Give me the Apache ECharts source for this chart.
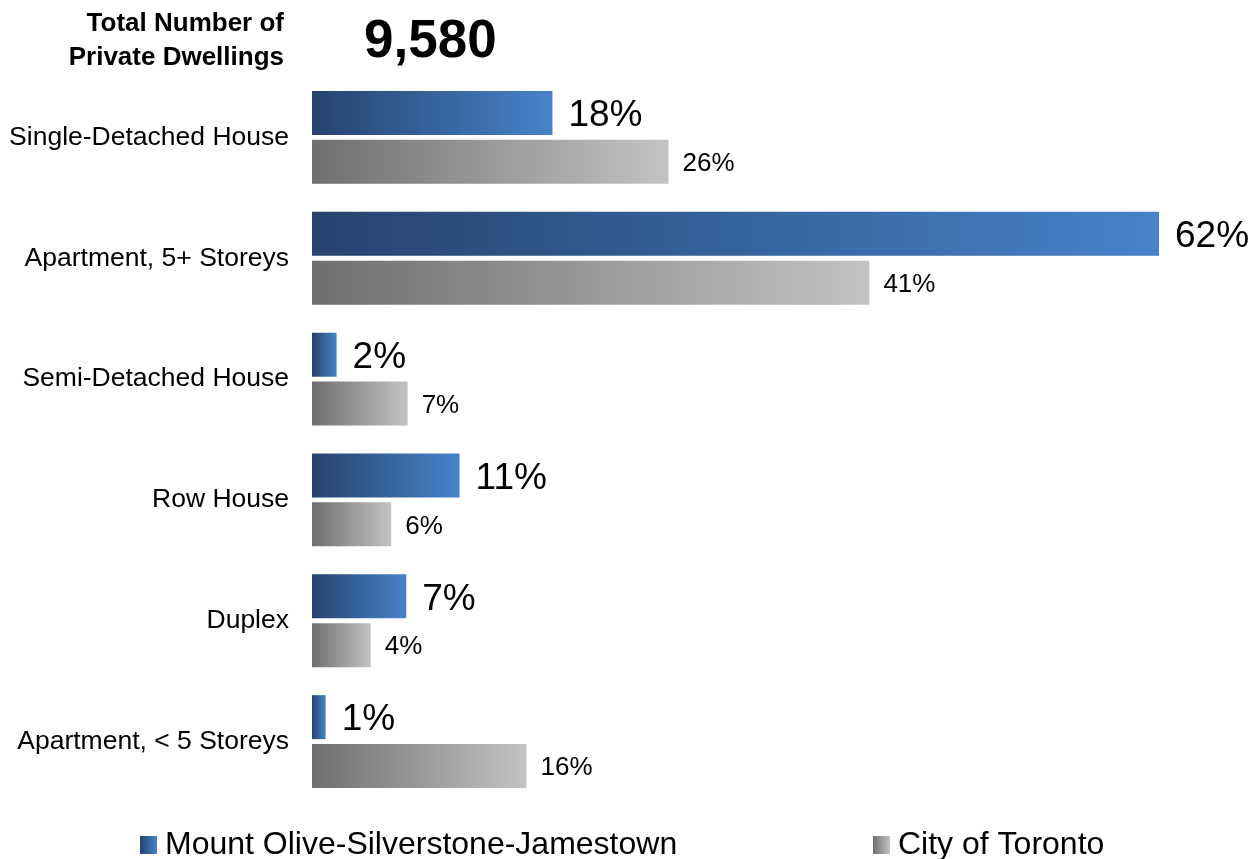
<!DOCTYPE html>
<html>
<head>
<meta charset="utf-8">
<script src="https://cdn.jsdelivr.net/npm/echarts@6/dist/echarts.min.js"></script>
<style>
  html, body { margin: 0; padding: 0; background: #fff; }
  #main { width: 1256px; height: 859px; }
</style>
</head>
<body>
<div id="main"></div>
<script>
var categories = ['Single-Detached House', 'Apartment, 5+ Storeys', 'Semi-Detached House', 'Row House', 'Duplex', 'Apartment, < 5 Storeys'];
var localValues = [17.6, 62.0, 1.8, 10.8, 6.9, 1.0];
var torontoValues = [26.1, 40.8, 7.0, 5.8, 4.3, 15.7];
var seriesNames = ['Mount Olive-Silverstone-Jamestown', 'City of Toronto'];
var totalLabel = 'Total Number of\nPrivate Dwellings';
var totalValue = '9,580';

var font = "'Liberation Sans', Arial, sans-serif";

var myChart = echarts.init(document.getElementById('main'));

function grad(c1, c2) {
    return new echarts.graphic.LinearGradient(0, 0, 1, 0, [
        {offset: 0, color: c1},
        {offset: 1, color: c2}
    ]);
}

function pct(p) {
    return Math.round(p.value) + '%';
}

let option = {
    backgroundColor: '#fff',
    animation: false,
    textStyle: {fontFamily: font},
    title: {
        text: totalValue,
        left: 364,
        top: 16,
        padding: 0,
        textStyle: {fontFamily: font, fontSize: 53, fontWeight: 'bold', color: '#000'}
    },
    graphic: [
        {
            type: 'text',
            x: 284,
            y: 7,
            style: {
                text: totalLabel,
                align: 'right',
                verticalAlign: 'top',
                font: 'bold 26px ' + font,
                lineHeight: 34,
                fill: '#000'
            }
        }
    ],
    legend: [
        {
            data: [seriesNames[0]],
            left: 140,
            top: 829,
            padding: 0,
            icon: 'rect',
            itemWidth: 17,
            itemHeight: 18,
            textStyle: {fontFamily: font, fontSize: 32, color: '#000', padding: [0, 0, 0, 3]}
        },
        {
            data: [seriesNames[1]],
            left: 873,
            top: 829,
            padding: 0,
            icon: 'rect',
            itemWidth: 17,
            itemHeight: 18,
            textStyle: {fontFamily: font, fontSize: 32, color: '#000', padding: [0, 0, 0, 3]}
        }
    ],
    grid: {left: 312, top: 77, bottom: 57, right: 56, containLabel: false},
    xAxis: {
        type: 'value',
        min: 0,
        max: 65,
        show: false
    },
    yAxis: {
        type: 'category',
        data: categories,
        inverse: true,
        axisLine: {show: false},
        axisTick: {show: false},
        axisLabel: {fontFamily: font, fontSize: 26.5, color: '#000', margin: 23}
    },
    series: [
        {
            name: seriesNames[0],
            type: 'bar',
            data: localValues,
            barWidth: 44,
            barGap: '11%',
            itemStyle: {color: grad('#26436e', '#4782ca')},
            label: {
                show: true,
                position: 'right',
                distance: 16,
                offset: [0, 3],
                formatter: pct,
                fontFamily: font,
                fontSize: 37,
                color: '#000'
            }
        },
        {
            name: seriesNames[1],
            type: 'bar',
            data: torontoValues,
            barWidth: 44,
            itemStyle: {color: grad('#6f6f6f', '#c3c3c3')},
            label: {
                show: true,
                position: 'right',
                distance: 14,
                offset: [0, 2],
                formatter: pct,
                fontFamily: font,
                fontSize: 26,
                color: '#000'
            }
        }
    ]
};

myChart.setOption(option);
</script>
</body>
</html>
